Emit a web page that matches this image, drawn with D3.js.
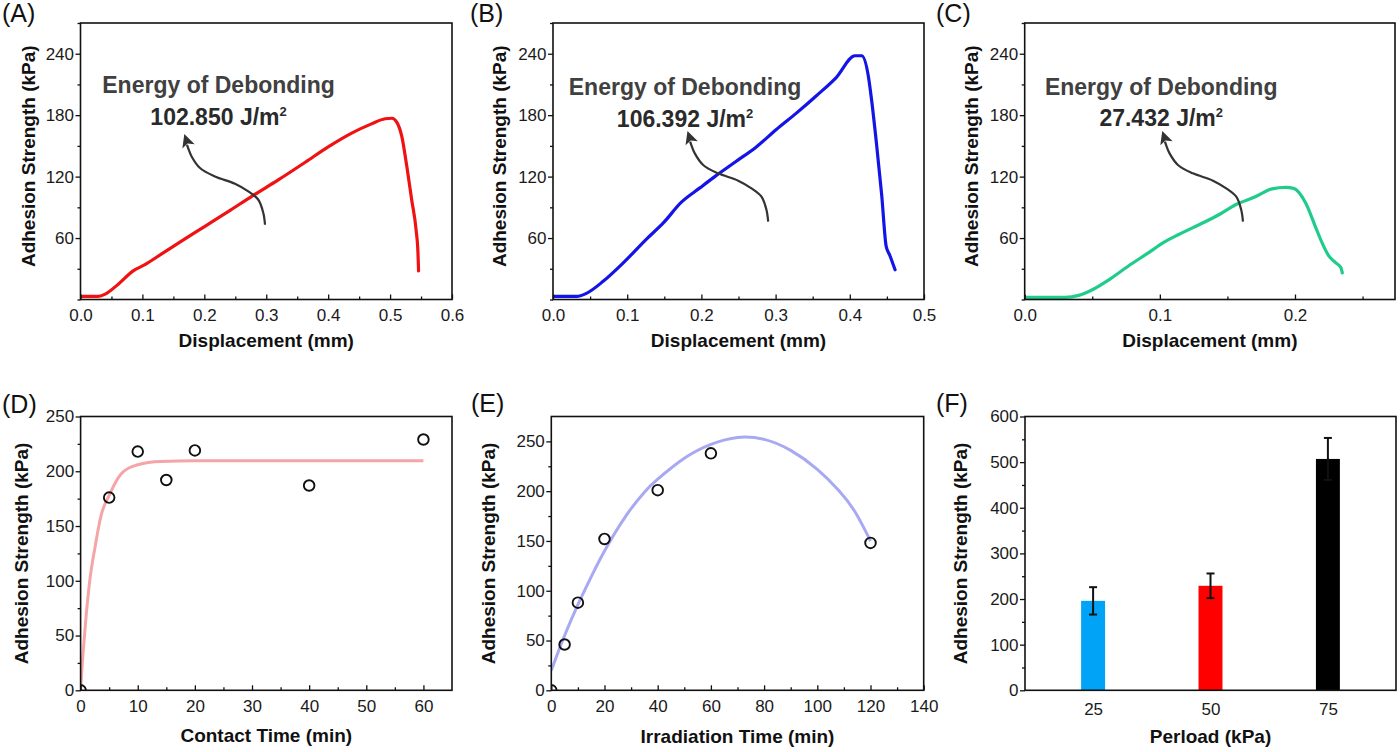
<!DOCTYPE html>
<html><head><meta charset="utf-8">
<script src="https://cdn.jsdelivr.net/npm/d3@7"></script>
<style>
body{margin:0;background:#fff}
svg{display:block}
text{font-family:"Liberation Sans",Arial,Helvetica,sans-serif}
</style>
</head><body>
<svg id="c" width="1400" height="752"></svg>
<script>
// ================= DATA =================
// (A) displacement (mm) vs adhesion strength (kPa)
const dispA     = [0, 0.028, 0.039, 0.061, 0.085, 0.104, 0.131, 0.163, 0.201, 0.239, 0.276, 0.320, 0.363, 0.400, 0.438, 0.470, 0.492, 0.503, 0.511, 0.519, 0.527, 0.535, 0.542, 0.545, 0.546];
const strengthA = [3, 3, 5, 15, 28, 34, 44.5, 57, 71.5, 86, 100.5, 117, 134, 149, 162.5, 171.5, 176.5, 177, 173, 159, 130, 97, 68, 46, 28];
// (B)
const dispB     = [0, 0.032, 0.045, 0.068, 0.095, 0.126, 0.149, 0.173, 0.198, 0.218, 0.247, 0.274, 0.301, 0.328, 0.355, 0.382, 0.407, 0.416, 0.425, 0.429, 0.436, 0.443, 0.449, 0.454, 0.461];
const strengthB = [3, 3, 6, 18, 36, 59, 75, 95, 109, 120, 135, 149, 166, 182, 199, 217, 238, 238, 218, 197, 152, 102, 52, 43, 29];
// (C)
const dispC     = [0, 0.030, 0.040, 0.050, 0.062, 0.077, 0.092, 0.102, 0.114, 0.129, 0.144, 0.156, 0.171, 0.183, 0.193, 0.199, 0.208, 0.215, 0.220, 0.225, 0.230, 0.234, 0.235];
const strengthC = [2, 2, 4, 9.5, 19, 33, 46, 55, 63.5, 73, 83, 92.5, 100.5, 108, 109.5, 108.5, 94, 71.5, 55.5, 42.5, 36, 31, 26];
const energyValues = ["102.850", "106.392", "27.432"];

// (D) contact time
const contactTime      = [0, 5, 10, 15, 20, 40, 60];
const contactStrength  = [0, 176, 218, 192, 219, 187, 229];
const contactFitTime     = [0, 0.25, 0.6, 1, 1.6, 2.5, 3.6, 5, 7, 10, 14, 20, 30, 40, 50, 60];
const contactFitStrength = [0, 21, 45, 70, 100, 130, 160, 178, 197, 206, 209, 209.5, 209.5, 209.5, 209.5, 209.5];

// (E) irradiation time
const irrTime     = [0, 5, 10, 20, 40, 60, 120];
const irrStrength = [0, 46, 88, 152, 201, 238, 148];
const irrFitTime     = [0, 2.5, 5, 10, 15, 20, 28, 35, 40, 50, 60, 70, 80, 90, 100, 108, 114, 120];
const irrFitStrength = [20, 38, 55, 86, 114, 140, 175, 199, 212, 233, 247, 254, 252, 241, 222, 201, 180, 150];

// (F) preload
const perload         = [25, 50, 75];
const perloadStrength = [196, 229, 507];
const perloadError    = [30, 27, 46];

// ticks
const ticksY_ABC  = [60, 120, 180, 240];
const minorY_ABC  = [0, 30, 90, 150, 210, 270];
const ticksX_A    = [0, 0.1, 0.2, 0.3, 0.4, 0.5, 0.6];
const minorX_A    = [0.05, 0.15, 0.25, 0.35, 0.45, 0.55];
const ticksX_B    = [0, 0.1, 0.2, 0.3, 0.4, 0.5];
const minorX_B    = [0.05, 0.15, 0.25, 0.35, 0.45];
const ticksX_C    = [0, 0.1, 0.2];
const minorX_C    = [0.05, 0.15, 0.25];
const ticksY_D    = [0, 50, 100, 150, 200, 250];
const minorY_D    = [25, 75, 125, 175, 225];
const ticksX_D    = [0, 10, 20, 30, 40, 50, 60];
const minorX_D    = [5, 15, 25, 35, 45, 55];
const ticksY_E    = [0, 50, 100, 150, 200, 250];
const minorY_E    = [25, 75, 125, 175, 225];
const ticksX_E    = [0, 20, 40, 60, 80, 100, 120, 140];
const minorX_E    = [10, 30, 50, 70, 90, 110, 130];
const ticksY_F    = [0, 100, 200, 300, 400, 500, 600];
const minorY_F    = [50, 150, 250, 350, 450, 550];

// ================= DRAWING =================
const svg = d3.select("#c");
const INK = "#111";

function zip(a, b) { return a.map((v, i) => [v, b[i]]); }

function panel(L) {
  const g = svg.append("g");
  const x = d3.scaleLinear().domain(L.xDomain).range([L.left, L.right]);
  const y = d3.scaleLinear().domain(L.yDomain).range([L.bottom, L.top]);
  const cid = "clip" + L.name;
  svg.append("defs").append("clipPath").attr("id", cid)
    .append("rect").attr("x", L.left).attr("y", L.top)
    .attr("width", L.right - L.left).attr("height", L.bottom - L.top);
  const plot = g.append("g").attr("clip-path", `url(#${cid})`);

  const style = sel => {
    sel.select(".domain").remove();
    sel.selectAll("line").attr("stroke", INK).attr("stroke-width", 1.3);
    sel.selectAll("text").attr("font-size", 17).attr("fill", "#1a1a1a")
      .attr("font-family", '"Liberation Sans",Arial,sans-serif');
  };
  g.append("g").attr("transform", `translate(${L.left},0)`)
    .call(d3.axisLeft(y).tickValues(L.yMajor).tickSize(5).tickPadding(1.5).tickFormat(d3.format("d")))
    .call(style);
  g.append("g").attr("transform", `translate(${L.left},0)`)
    .call(d3.axisLeft(y).tickValues(L.yMinor).tickSize(3).tickFormat(""))
    .call(style);
  if (L.xMajor) {
    g.append("g").attr("transform", `translate(0,${L.bottom})`)
      .call(d3.axisBottom(x).tickValues(L.xMajor).tickSize(-5).tickPadding(9.5).tickFormat(L.xFmt))
      .call(style);
    g.append("g").attr("transform", `translate(0,${L.bottom})`)
      .call(d3.axisBottom(x).tickValues(L.xMinor).tickSize(-3).tickFormat(""))
      .call(style);
  }
  g.append("rect").attr("x", L.left).attr("y", L.top)
    .attr("width", L.right - L.left).attr("height", L.bottom - L.top)
    .attr("fill", "none").attr("stroke", INK).attr("stroke-width", 1.6);
  g.append("text").attr("x", (L.left + L.right) / 2).attr("y", L.bottom + L.xTitleDy)
    .attr("text-anchor", "middle").attr("font-size", 19).attr("font-weight", "bold").attr("fill", INK)
    .text(L.xTitle);
  g.append("text")
    .attr("transform", `translate(${L.left - L.yTitleDx},${(L.top + L.bottom) / 2 + L.yTitleShift}) rotate(-90)`)
    .attr("text-anchor", "middle").attr("dy", "0.35em").attr("font-size", 19).attr("font-weight", "bold").attr("fill", INK)
    .text("Adhesion Strength (kPa)");
  g.append("text").attr("x", L.labelX).attr("y", L.labelY)
    .attr("font-size", 25).attr("fill", INK).text(L.label);
  return { g, plot, x, y };
}

// arrow shape (pixel offsets from tail)
const arrowPts = [[0,0],[-1.7,-11.7],[-6.7,-25],[-16.7,-33.3],[-30,-41],[-50,-48.3],[-65,-56.7],[-73.4,-68.3],[-77,-77],[-78,-80]];
function annotate(P, A, value) {
  const tx = P.x(A.tail[0]), ty = P.y(A.tail[1]);
  const line = d3.line().curve(d3.curveCatmullRom);
  P.g.append("path").attr("d", line(arrowPts.map(p => [tx + p[0], ty + p[1]])))
    .attr("fill", "none").attr("stroke", "#333").attr("stroke-width", 2.2);
  const tip = [tx - 80.7, ty - 90.7];
  const dir = [-0.324, -0.946], per = [0.946, -0.324];
  const base = [tip[0] - 13 * dir[0], tip[1] - 13 * dir[1]];
  const notch = [tip[0] - 10 * dir[0], tip[1] - 10 * dir[1]];
  const c1 = [base[0] + 6.5 * per[0], base[1] + 6.5 * per[1]];
  const c2 = [base[0] - 6.5 * per[0], base[1] - 6.5 * per[1]];
  P.g.append("path").attr("d", `M${tip}L${c1}L${notch}L${c2}Z`).attr("fill", "#333");

  const cx = P.x(A.textX);
  P.g.append("text").attr("x", cx).attr("y", P.y(A.headY)).attr("text-anchor", "middle")
    .attr("font-size", 23).attr("font-weight", "bold").attr("fill", "#404040").text("Energy of Debonding");
  const t = P.g.append("text").attr("x", cx).attr("y", P.y(A.numY)).attr("text-anchor", "middle")
    .attr("font-size", 23).attr("font-weight", "bold").attr("fill", "#2a2a2a");
  t.append("tspan").text(value + " J/m");
  t.append("tspan").attr("font-size", 13).attr("dy", -9).text("2");
}

const fmt1 = d3.format(".1f");
const common = { yDomain: [0, 270], yMajor: ticksY_ABC, yMinor: minorY_ABC, xFmt: fmt1,
  xTitle: "Displacement (mm)", xTitleDy: 47, yTitleShift: -5, top: 23, bottom: 299.5, labelY: 22 };

const curves = [
  { name: "A", left: 80.5, right: 452, xDomain: [0, 0.6], xMajor: ticksX_A, xMinor: minorX_A, labelX: 2, yTitleDx: 52,
    xs: dispA, ys: strengthA, color: "#f01212",
    ann: { tail: [0.298, 73], textX: 0.223, headY: 201.4, numY: 170.4 } },
  { name: "B", left: 553, right: 924, xDomain: [0, 0.5], xMajor: ticksX_B, xMinor: minorX_B, labelX: 470, yTitleDx: 54,
    xs: dispB, ys: strengthB, color: "#1414e6",
    ann: { tail: [0.290, 76], textX: 0.178, headY: 199.6, numY: 168.8 } },
  { name: "C", left: 1024.7, right: 1395, xDomain: [0, 0.274], xMajor: ticksX_C, xMinor: minorX_C, labelX: 936, yTitleDx: 53,
    xs: dispC, ys: strengthC, color: "#20cc8c",
    ann: { tail: [0.1615, 76], textX: 0.101, headY: 199.6, numY: 169.4 } }
];
curves.forEach((c, i) => {
  const P = panel(Object.assign({}, common, c, { label: "(" + c.name + ")" }));
  P.plot.append("path").datum(zip(c.xs, c.ys))
    .attr("d", d3.line().x(d => P.x(d[0])).y(d => P.y(d[1])).curve(d3.curveMonotoneX))
    .attr("fill", "none").attr("stroke", c.color).attr("stroke-width", 3.2)
    .attr("stroke-linejoin", "round").attr("stroke-linecap", "round");
  annotate(P, c.ann, energyValues[i]);
});

// (D)
{
  const P = panel({ name: "D", left: 80.6, right: 452, top: 416.5, bottom: 690.3, xDomain: [0, 65], yDomain: [0, 250],
    yMajor: ticksY_D, yMinor: minorY_D, xMajor: ticksX_D, xMinor: minorX_D, xFmt: d3.format("d"),
    xTitle: "Contact Time (min)", xTitleDy: 51.5, yTitleDx: 59, yTitleShift: 0, label: "(D)", labelX: 2, labelY: 413 });
  P.plot.append("path").datum(zip(contactFitTime, contactFitStrength))
    .attr("d", d3.line().x(d => P.x(d[0])).y(d => P.y(d[1])).curve(d3.curveMonotoneX))
    .attr("fill", "none").attr("stroke", "#f5a5a5").attr("stroke-width", 3);
  P.plot.selectAll("circle").data(zip(contactTime, contactStrength)).join("circle")
    .attr("cx", d => P.x(d[0])).attr("cy", d => P.y(d[1])).attr("r", 5.3)
    .attr("fill", "none").attr("stroke", INK).attr("stroke-width", 1.9);
}
// (E)
{
  const P = panel({ name: "E", left: 551.3, right: 923.7, top: 416.5, bottom: 690.3, xDomain: [0, 140], yDomain: [0, 275],
    yMajor: ticksY_E, yMinor: minorY_E, xMajor: ticksX_E, xMinor: minorX_E, xFmt: d3.format("d"),
    xTitle: "Irradiation Time (min)", xTitleDy: 53, yTitleDx: 63, yTitleShift: 0, label: "(E)", labelX: 471, labelY: 412 });
  P.plot.append("path").datum(zip(irrFitTime, irrFitStrength))
    .attr("d", d3.line().x(d => P.x(d[0])).y(d => P.y(d[1])).curve(d3.curveNatural))
    .attr("fill", "none").attr("stroke", "#a9a9f3").attr("stroke-width", 3);
  P.plot.selectAll("circle").data(zip(irrTime, irrStrength)).join("circle")
    .attr("cx", d => P.x(d[0])).attr("cy", d => P.y(d[1])).attr("r", 5.3)
    .attr("fill", "none").attr("stroke", INK).attr("stroke-width", 1.9);
}
// (F)
{
  const P = panel({ name: "F", left: 1025, right: 1396, top: 416.5, bottom: 690.3, xDomain: [10.5, 89.5], yDomain: [0, 600],
    yMajor: ticksY_F, yMinor: minorY_F, xMajor: null,
    xTitle: "Perload (kPa)", xTitleDy: 53, yTitleDx: 64.3, yTitleShift: 0, label: "(F)", labelX: 936, labelY: 412 });
  P.g.append("g").attr("transform", "translate(0,690.3)")
    .call(d3.axisBottom(P.x).tickValues(perload).tickSize(0).tickPadding(12.5).tickFormat(d3.format("d")))
    .call(s => { s.select(".domain").remove(); s.selectAll("text").attr("font-size", 17).attr("fill", "#1a1a1a")
      .attr("font-family", '"Liberation Sans",Arial,sans-serif'); });
  const barColors = ["#00a3f5", "#ff0000", "#000000"];
  const halfW = 2.55;
  const data = perload.map((p, i) => ({ p, v: perloadStrength[i], e: perloadError[i], c: barColors[i] }));
  P.plot.selectAll("rect.bar").data(data).join("rect").attr("class", "bar")
    .attr("x", d => P.x(d.p - halfW)).attr("width", d => P.x(d.p + halfW) - P.x(d.p - halfW))
    .attr("y", d => P.y(d.v)).attr("height", d => P.y(0) - P.y(d.v)).attr("fill", d => d.c);
  const eg = P.g.selectAll("g.err").data(data).join("g").attr("class", "err")
    .attr("stroke", "#111").attr("stroke-width", 2);
  eg.append("line").attr("x1", d => P.x(d.p)).attr("x2", d => P.x(d.p))
    .attr("y1", d => P.y(d.v - d.e)).attr("y2", d => P.y(d.v + d.e));
  eg.append("line").attr("x1", d => P.x(d.p) - 4).attr("x2", d => P.x(d.p) + 4)
    .attr("y1", d => P.y(d.v + d.e)).attr("y2", d => P.y(d.v + d.e));
  eg.append("line").attr("x1", d => P.x(d.p) - 4).attr("x2", d => P.x(d.p) + 4)
    .attr("y1", d => P.y(d.v - d.e)).attr("y2", d => P.y(d.v - d.e));
}
</script>
</body></html>
